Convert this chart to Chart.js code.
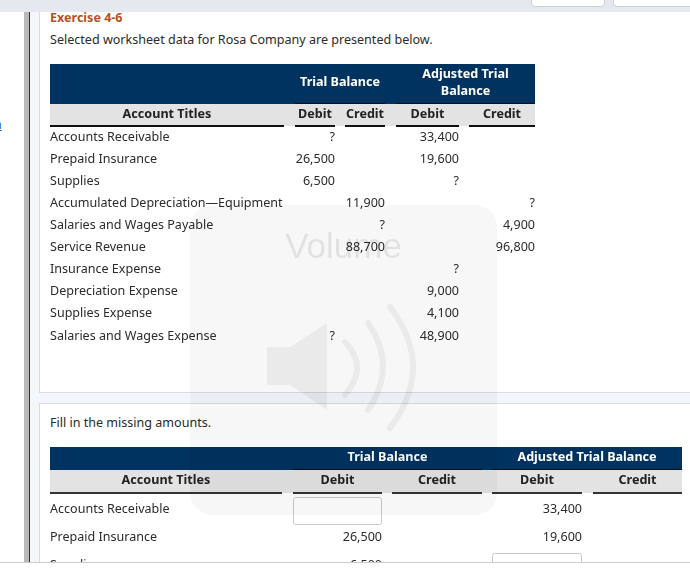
<!DOCTYPE html>
<html>
<head>
<meta charset="utf-8">
<style>
html, body { margin: 0; padding: 0; width: 690px; height: 575px; overflow: hidden; background: #fff; font-family: "Noto Sans", sans-serif; color: #2b2b2b; }
div, canvas, svg { position: absolute; }
.topbar { left: 0; top: 0; width: 690px; height: 12px; background: #e5e9ef; overflow: hidden; }
.btn { top: -14px; height: 19px; background: #fff; border: 1px solid #ccd1d7; border-radius: 4px; }
.rail { left: 24px; top: 12px; width: 5px; height: 550px; background: #b9b9b9; border-right: 1px solid #333; }
.gutter { left: 30px; top: 12px; width: 660px; height: 550px; background: #f3f6fa; }
.panel { left: 39px; width: 660px; background: #fff; border: 1px solid #d6dce3; }
.txt { left: 50px; font-size: 12.55px; line-height: 18px; white-space: nowrap; }
.stub { left: -6px; top: 116px; font-size: 12.55px; line-height: 18px; color: #2a5ea8; text-decoration: underline; }
.veil { left: 190px; top: 205px; width: 307px; height: 310px; border-radius: 22px; background: rgba(0,0,0,0.03); }
.vol { left: 190px; top: 226px; width: 307px; text-align: center; font: 35px "Liberation Sans", sans-serif; line-height: 40px; color: rgba(0,0,0,0.09); }
.foot { left: 0; top: 562px; width: 690px; height: 13px; background: #fff; border-top: 1px solid #ccc; }
</style>
</head>
<body>
<div class="gutter"></div>
<div class="rail"></div>
<div class="topbar">
  <div class="btn" style="left:531px;width:72px"></div>
  <div class="btn" style="left:613px;width:90px"></div>
</div>
<div class="stub">n</div>
<div class="panel" style="top:12px;height:380px;border-top:0"></div>
<div class="panel" style="top:403px;height:170px"></div>
<div class="txt" style="top:9px;font-weight:700;color:#b5521f">Exercise 4-6</div>
<div class="txt" style="top:31px">Selected worksheet data for Rosa Company are presented below.</div>
<div class="txt" style="top:414px">Fill in the missing amounts.</div>
<canvas id="reference" width="485" height="283" style="left:50px;top:64px"></canvas>
<canvas id="answers" width="632" height="132" style="left:50px;top:447px"></canvas>
<div class="veil"></div>
<div class="vol">Volume</div>
<svg width="690" height="575" style="left:0;top:0">
  <path d="M267 347H290L327 323V410L290 385H267Z" fill="rgba(0,0,0,0.055)"/>
  <path d="M345 342Q369 367 345 395M368 323Q398 366 368 410M390 307Q436 367 390 428" fill="none" stroke="rgba(0,0,0,0.055)" stroke-width="6" stroke-linecap="round"/>
</svg>
<div class="foot"></div>

<script src="https://cdn.jsdelivr.net/npm/chart.js@4"></script>
<script>
const accountTitles = [
  'Accounts Receivable', 'Prepaid Insurance', 'Supplies',
  'Accumulated Depreciation—Equipment', 'Salaries and Wages Payable',
  'Service Revenue', 'Insurance Expense', 'Depreciation Expense',
  'Supplies Expense', 'Salaries and Wages Expense'
];
const trialDebit = ['?', 26500, 6500, null, null, null, null, null, null, '?'];
const trialCredit = [null, null, null, 11900, '?', 88700, null, null, null, null];
const adjustedDebit = [33400, 19600, '?', null, null, null, '?', 9000, 4100, 48900];
const adjustedCredit = [null, null, null, '?', 4900, 96800, null, null, null, null];

// second table, only the rows that fit on screen
const answerTitles = ['Accounts Receivable', 'Prepaid Insurance', 'Supplies'];
const answerTrialDebit = ['?', 26500, 6500];
const answerTrialCredit = [null, null, null];
const answerAdjustedDebit = [33400, 19600, '?'];
const answerAdjustedCredit = [null, null, null];

const columnNames = ['Debit', 'Credit', 'Debit', 'Credit'];
const headerTitle = 'Account Titles';

const NAVY = '#00335f';
const BAND = '#e3e3e3';
const INK = '#2b2b2b';
const FONT = '"Noto Sans", sans-serif';

function makeTable(id, spec) {
  const datasets = spec.series.map((values, c) => ({
    data: values
      .map((v, r) => ({ x: spec.cols[c][1], y: spec.titles[r], v }))
      .filter(d => d.v !== null),
    pointRadius: 0
  }));

  const tablePlugin = {
    id: 'tablePlugin',
    beforeDatasetsDraw(chart) {
      const { ctx, scales: { x }, width } = chart;
      const h = spec.header;
      ctx.save();
      ctx.fillStyle = NAVY;
      ctx.fillRect(0, 0, width, h.navy);
      ctx.fillStyle = BAND;
      ctx.fillRect(0, h.navy, width, h.band);
      ctx.fillStyle = h.rule;
      ctx.fillRect(0, h.navy + h.band - 1, x.getPixelForValue(spec.titleEnd), 2);
      spec.cols.forEach(col => {
        const l = x.getPixelForValue(col[0]);
        ctx.fillRect(l, h.navy + h.band - 1, x.getPixelForValue(col[1]) - l, 2);
      });
      // groups over the columns
      ctx.textBaseline = 'middle';
      ctx.textAlign = 'center';
      ctx.font = 'bold 12.6px ' + FONT;
      spec.groups.forEach((g, i) => {
        const a = x.getPixelForValue(spec.cols[i * 2][0]);
        const b = x.getPixelForValue(spec.cols[i * 2 + 1][1]);
        ctx.fillStyle = '#111';
        ctx.fillRect(a, h.navy - 1, b - a, 1);
        ctx.fillStyle = '#fff';
        g.forEach((line, k) => ctx.fillText(line, (a + b) / 2, h.groupY[i][k]));
      });
      ctx.fillStyle = '#222';
      ctx.fillText(headerTitle, x.getPixelForValue(spec.titleEnd) / 2, h.labelY);
      spec.cols.forEach((col, i) => {
        ctx.fillText(columnNames[i], (x.getPixelForValue(col[0]) + x.getPixelForValue(col[1])) / 2, h.labelY);
      });
      ctx.restore();
    },
    afterDatasetsDraw(chart) {
      const { ctx, scales: { x } } = chart;
      ctx.save();
      ctx.font = '12.55px ' + FONT;
      ctx.textAlign = 'right';
      ctx.textBaseline = 'middle';
      ctx.fillStyle = INK;
      chart.data.datasets.forEach((ds, c) => {
        chart.getDatasetMeta(c).data.forEach((pt, r) => {
          const v = ds.data[r].v;
          if (v === '?' && spec.inputs) {
            const l = x.getPixelForValue(spec.cols[c][0]);
            ctx.strokeStyle = '#c9c9c9';
            ctx.fillStyle = '#fff';
            ctx.beginPath();
            ctx.roundRect(l + 0.5, pt.y - 11.5, pt.x - l - 1, 27, 2);
            ctx.fill();
            ctx.stroke();
            ctx.fillStyle = INK;
            return;
          }
          ctx.fillText(typeof v === 'number' ? v.toLocaleString('en-US') : v, pt.x, pt.y);
        });
      });
      ctx.restore();
    }
  };

  return new Chart(document.getElementById(id), {
    type: 'scatter',
    data: { datasets },
    plugins: [tablePlugin],
    options: {
      responsive: false,
      animation: false,
      events: [],
      layout: { padding: { top: spec.plotTop, left: 0, right: 0, bottom: 0 } },
      plugins: { legend: { display: false }, tooltip: { enabled: false } },
      scales: {
        x: { type: 'linear', min: spec.titleEnd, max: spec.cols[3][1], display: false },
        y: {
          type: 'category',
          labels: spec.titles,
          offset: true,
          position: 'left',
          border: { display: false },
          grid: { display: false, drawTicks: false },
          afterFit: s => {
            s.width = spec.titleEnd - 50;
            s.paddingTop = 0;
            s.paddingBottom = 0;
          },
          ticks: {
            crossAlign: 'far',
            padding: 0,
            autoSkip: false,
            color: INK,
            font: { family: FONT, size: 12.55 }
          }
        }
      }
    }
  });
}

makeTable('reference', {
  titles: accountTitles,
  series: [trialDebit, trialCredit, adjustedDebit, adjustedCredit],
  titleEnd: 284,
  cols: [[295, 335], [345, 385], [396, 459], [469, 535]],
  groups: [['Trial Balance'], ['Adjusted Trial', 'Balance']],
  plotTop: 62,
  header: { navy: 40, band: 22, rule: '#111', labelY: 50, groupY: [[18], [10, 27]] }
});

makeTable('answers', {
  titles: answerTitles,
  series: [answerTrialDebit, answerTrialCredit, answerAdjustedDebit, answerAdjustedCredit],
  titleEnd: 282,
  cols: [[293, 382], [392, 482], [492, 582], [593, 682]],
  groups: [['Trial Balance'], ['Adjusted Trial Balance']],
  plotTop: 48,
  inputs: true,
  header: { navy: 23, band: 23, rule: '#333', labelY: 33, groupY: [[10], [10]] }
});
</script>
</body>
</html>
